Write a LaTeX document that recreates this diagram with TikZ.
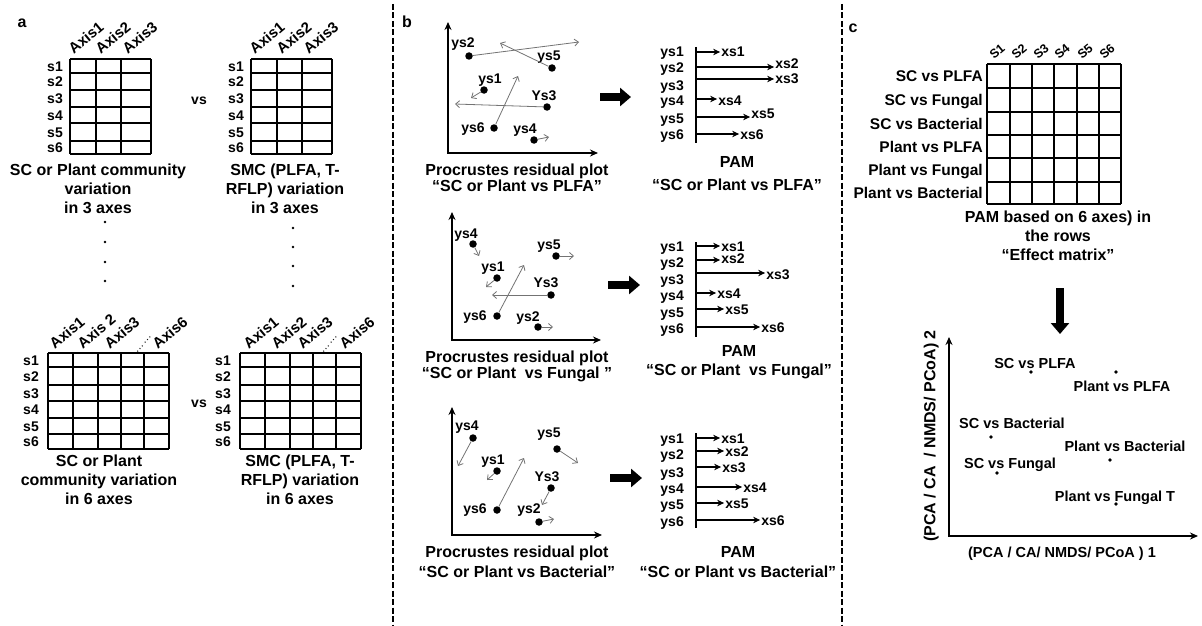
\documentclass[tikz,border=0pt]{standalone}
\usepackage{fontspec}
\setmainfont{Liberation Sans}
\usetikzlibrary{arrows.meta}

\tikzset{
  lbl/.style={font=\bfseries\fontsize{14}{16}\selectfont,inner sep=1pt,text height=10pt,text depth=0pt},
  capt/.style={font=\bfseries\fontsize{16}{19}\selectfont,inner sep=1pt,align=center,anchor=north},
  axlbl/.style={font=\bfseries\fontsize{15}{17}\selectfont,inner sep=0.5pt,rotate=40,anchor=south west},
  slbl/.style={font=\bfseries\fontsize{12.5}{14}\selectfont,inner sep=0.5pt,rotate=40,anchor=south west},
  rowlbl/.style={font=\bfseries\fontsize{15.5}{18}\selectfont,inner sep=1pt,anchor=east,text height=11pt,text depth=0pt},
  plbl/.style={font=\bfseries\fontsize{14.5}{17}\selectfont,inner sep=1pt,text height=10.5pt,text depth=0pt},
  gridln/.style={line width=1.8pt},
  plotax/.style={line width=1.6pt,{Stealth[length=8pt,width=7pt]}-{Stealth[length=8pt,width=7pt]}},
  spot/.style={circle,fill,inner sep=0pt,minimum size=7.5pt},
  speck/.style={circle,fill,inner sep=0pt,minimum size=2.8pt},
  resid/.style={black!55,line width=0.8pt,-{Straight Barb[length=4pt,width=7pt]}},
  pamarr/.style={line width=1.5pt,-{Stealth[length=7pt,width=6.5pt]}},
  fatarr/.style={line width=8pt,-{Triangle[length=11pt,width=18pt]}},
  divider/.style={line width=2.2pt,dash pattern=on 6pt off 2.5pt},
}

\begin{document}
\begin{tikzpicture}[x=1pt,y=-1pt]
  \useasboundingbox (0,0) rectangle (1202,626);

  % dividers
  \draw[divider] (393,4) -- (393,626);
  \draw[divider] (842,4) -- (842,626);

  % ---------------- panel a
  \node[lbl,font=\bfseries\fontsize{16}{18}\selectfont] (tagA) at (22,23) {a};
  \foreach \gx/\gn in {70/aL,251/aR}{
    \foreach \y in {59,73,90,107,123,141,154} \draw[gridln] (\gx,\y) -- (\gx+81,\y);
    \foreach \dx in {0,26,51,81} \draw[gridln] (\gx+\dx,59) -- (\gx+\dx,154);
    \foreach \i/\y in {1/66,2/81.5,3/98.5,4/115,5/132,6/147.5}
      \node[lbl,anchor=east] (\gn-s\i) at (\gx-6,\y) {s\i};
    \foreach \i/\dx in {1/4,2/31,3/58}
      \node[axlbl] (\gn-ax\i) at (\gx+\dx,56) {Axis\i};
  }
  \node[lbl] (vs3) at (199,99) {vs};
  \node[capt] (aLcap3) at (98,163) {SC or Plant community\\variation\\in 3 axes};
  \node[capt] (aRcap3) at (285,163) {SMC (PLFA, T-\\RFLP) variation\\in 3 axes};

  \foreach \y [count=\k] in {222,242,262,281} \node[speck] (aLdot\k) at (105,\y) {};
  \foreach \y [count=\k] in {228,247,266,286} \node[speck] (aRdot\k) at (293,\y) {};

  \foreach \gx/\gn in {48/bL,240/bR}{
    \foreach \y in {353,367,385,401,418,434,449} \draw[gridln] (\gx,\y) -- (\gx+121,\y);
    \foreach \dx in {0,25,50,73,96,121} \draw[gridln] (\gx+\dx,353) -- (\gx+\dx,449);
    \foreach \i/\y in {1/360,2/376,3/393,4/409.5,5/426,6/441.5}
      \node[lbl,anchor=east] (\gn-s\i) at (\gx-8,\y) {s\i};
  }
  \foreach \i/\dx/\lab in {1/7/Axis1,2/35/Axis 2,3/62/Axis3,6/110/Axis6}
    \node[axlbl] (bL-ax\i) at (48+\dx,351) {\lab};
  \foreach \i/\dx/\lab in {1/9/Axis1,2/37/Axis2,3/63/Axis3,6/105/Axis6}
    \node[axlbl] (bR-ax\i) at (240+\dx,351) {\lab};
  \node[axlbl,rotate=8,font=\fontsize{11}{12}\selectfont] (bL-gap) at (137,354) {……};
  \node[axlbl,rotate=8,font=\fontsize{11}{12}\selectfont] (bR-gap) at (323,354) {……};
  \node[lbl] (vs6) at (199,402) {vs};
  \node[capt] (aLcap6) at (99,454) {SC or Plant\\community variation\\in 6 axes};
  \node[capt] (aRcap6) at (300,454) {SMC (PLFA, T-\\RFLP) variation\\in 6 axes};

  % ---------------- panel b
  \node[lbl,font=\bfseries\fontsize{16}{18}\selectfont] (tagB) at (407,23) {b};

  % residual plot 1
  \coordinate (p1o) at (448,153);
  \coordinate (p1y) at (448,22);
  \coordinate (p1x) at (598,153);
  \draw[plotax] (p1y) -- (p1o) -- (p1x);
  \foreach \n/\lab/\px/\py/\lx/\ly/\ex/\ey in {
      1/ys1/484/90/490/79/471/98,
      2/ys2/469/56/463/43/579/42,
      3/Ys3/547/107/544/95/455/104,
      4/ys4/534/140/525/128/549/137,
      5/ys5/552/68/549/56/500/43,
      6/ys6/494/128/473/127/518/76}{
    \node[spot] (p1d\n) at (\px,\py) {};
    \node[lbl] (p1l\n) at (\lx,\ly) {\lab};
    \coordinate (p1e\n) at (\ex,\ey);
    \draw[resid] (p1d\n) -- (p1e\n);
  }
  \node[capt,font=\bfseries\fontsize{16}{16}\selectfont] (p1cap) at (517,163)
    {Procrustes residual plot\\“SC or Plant vs PLFA”};

  \coordinate (f1a) at (600,97);
  \coordinate (f1b) at (631,97);
  \draw[fatarr] (f1a) -- (f1b);

  % PAM 1
  \coordinate (m1t) at (696,47);
  \coordinate (m1b) at (696,143);
  \draw[gridln] (m1t) -- (m1b);
  \foreach \i/\ly/\ay/\xx/\xy in {1/52/52/733/52,2/68/67/787/63,3/85/79/787/79,
      4/101/99/730/100,5/118/117/763/113,6/134/134/752/134}{
    \node[lbl,anchor=east] (m1y\i) at (685,\ly) {ys\i};
    \node[lbl] (m1x\i) at (\xx,\xy) {xs\i};
    \coordinate (m1s\i) at (696,\ay);
    \draw[pamarr] (m1s\i) -- (m1s\i -| m1x\i.west);
  }
  \node[capt,font=\bfseries\fontsize{16}{23}\selectfont] (m1cap) at (737,155)
    {PAM\\“SC or Plant vs PLFA”};

  % residual plot 2
  \coordinate (p2o) at (452,340);
  \coordinate (p2y) at (452,212);
  \coordinate (p2x) at (601,340);
  \draw[plotax] (p2y) -- (p2o) -- (p2x);
  \foreach \n/\lab/\px/\py/\lx/\ly/\ex/\ey in {
      1/ys1/497/278/493/266/486/287,
      2/ys2/538/327/528/316/553/327,
      3/Ys3/551/295/546/282/492/295,
      4/ys4/473/244/466/233/479/256,
      5/ys5/556/256/549/244/574/256,
      6/ys6/497/316/475/315/524/265}{
    \node[spot] (p2d\n) at (\px,\py) {};
    \node[lbl] (p2l\n) at (\lx,\ly) {\lab};
    \coordinate (p2e\n) at (\ex,\ey);
    \draw[resid] (p2d\n) -- (p2e\n);
  }
  \node[capt,font=\bfseries\fontsize{16}{16}\selectfont] (p2cap) at (517,350)
    {Procrustes residual plot\\“SC or Plant~ vs Fungal~”};

  \coordinate (f2a) at (608,285);
  \coordinate (f2b) at (640,285);
  \draw[fatarr] (f2a) -- (f2b);

  % PAM 2
  \coordinate (m2t) at (696,242);
  \coordinate (m2b) at (696,337);
  \draw[gridln] (m2t) -- (m2b);
  \foreach \i/\ly/\ay/\xx/\xy in {1/246/246/733/246,2/262/260/733/258,3/279/273/778/274,
      4/295/293/729/293,5/312/309/737/309,6/328/327/773/327}{
    \node[lbl,anchor=east] (m2y\i) at (685,\ly) {ys\i};
    \node[lbl] (m2x\i) at (\xx,\xy) {xs\i};
    \coordinate (m2s\i) at (696,\ay);
    \draw[pamarr] (m2s\i) -- (m2s\i -| m2x\i.west);
  }
  \node[capt,font=\bfseries\fontsize{16}{19}\selectfont] (m2cap) at (739,344)
    {PAM\\“SC or Plant~ vs Fungal”};

  % residual plot 3
  \coordinate (p3o) at (452,535);
  \coordinate (p3y) at (452,407);
  \coordinate (p3x) at (602,535);
  \draw[plotax] (p3y) -- (p3o) -- (p3x);
  \foreach \n/\lab/\px/\py/\lx/\ly/\ex/\ey in {
      1/ys1/497/471/493/459/487/480,
      2/ys2/539/522/529/508/554/519,
      3/Ys3/551/488/547/476/542/505,
      4/ys4/473/438/467/425/458/466,
      5/ys5/557/449/549/432/578/463,
      6/ys6/497/510/475/508/524/458}{
    \node[spot] (p3d\n) at (\px,\py) {};
    \node[lbl] (p3l\n) at (\lx,\ly) {\lab};
    \coordinate (p3e\n) at (\ex,\ey);
    \draw[resid] (p3d\n) -- (p3e\n);
  }
  \node[capt,font=\bfseries\fontsize{16}{20}\selectfont] (p3cap) at (517,545)
    {Procrustes residual plot\\“SC or Plant vs Bacterial”};

  \coordinate (f3a) at (610,478);
  \coordinate (f3b) at (642,478);
  \draw[fatarr] (f3a) -- (f3b);

  % PAM 3
  \coordinate (m3t) at (696,433);
  \coordinate (m3b) at (696,528);
  \draw[gridln] (m3t) -- (m3b);
  \foreach \i/\ly/\ay/\xx/\xy in {1/438/438/733/438,2/454/451/737/451,3/472/467/734/467,
      4/488/487/755/487,5/504/503/737/503,6/521/520/773/520}{
    \node[lbl,anchor=east] (m3y\i) at (685,\ly) {ys\i};
    \node[lbl] (m3x\i) at (\xx,\xy) {xs\i};
    \coordinate (m3s\i) at (696,\ay);
    \draw[pamarr] (m3s\i) -- (m3s\i -| m3x\i.west);
  }
  \node[capt,font=\bfseries\fontsize{16}{20}\selectfont] (m3cap) at (738,545)
    {PAM\\“SC or Plant vs Bacterial”};

  % ---------------- panel c
  \node[lbl,font=\bfseries\fontsize{16}{18}\selectfont] (tagC) at (853,28) {c};
  \foreach \y in {64,88,112,135,158,182,204} \draw[gridln] (987,\y) -- (1121,\y);
  \foreach \x in {987,1010,1032,1054,1077,1099,1121} \draw[gridln] (\x,64) -- (\x,204);
  \foreach \i/\x in {1/994,2/1016,3/1038,4/1059,5/1082,6/1104}
    \node[slbl] (cs\i) at (\x,61) {S\i};
  \foreach \i/\y/\lab in {1/76/SC vs PLFA,2/100/SC vs Fungal,3/123.5/SC vs Bacterial,
      4/146.5/Plant vs PLFA,5/170/Plant vs Fungal,6/193/Plant vs Bacterial}
    \node[rowlbl] (cr\i) at (984,\y) {\lab};
  \node[capt] (ccap) at (1058,210) {PAM based on 6 axes) in\\the rows\\“Effect matrix”};

  \coordinate (cdA) at (1060,288);
  \coordinate (cdB) at (1060,334);
  \draw[fatarr] (cdA) -- (cdB);

  % ordination plot
  \coordinate (co) at (949,536);
  \coordinate (cy) at (949,337);
  \coordinate (cx) at (1198,536);
  \draw[plotax] (cy) -- (co) -- (cx);
  \node[plbl,font=\bfseries\fontsize{16}{18}\selectfont,rotate=90] (cyl) at (930,436)
    {(PCA / CA~ / NMDS/ PCoA) 2};
  \node[plbl] (cxl) at (1062,552) {(PCA / CA/ NMDS/ PCoA ) 1};
  \foreach \i/\px/\py/\lx/\ly/\lab in {
      1/1031/372/1035/363/SC vs PLFA,
      2/1116/372/1122/386/Plant vs PLFA,
      3/991/437/1012/423/SC vs Bacterial,
      4/1110/460/1125/446/Plant vs Bacterial,
      5/997/473/1010/463/SC vs Fungal,
      6/1116/504/1115/496/Plant vs Fungal T}{
    \node[speck,minimum size=3.8pt] (cp\i) at (\px,\py) {};
    \node[plbl] (cl\i) at (\lx,\ly) {\lab};
  }
\end{tikzpicture}
\end{document}
